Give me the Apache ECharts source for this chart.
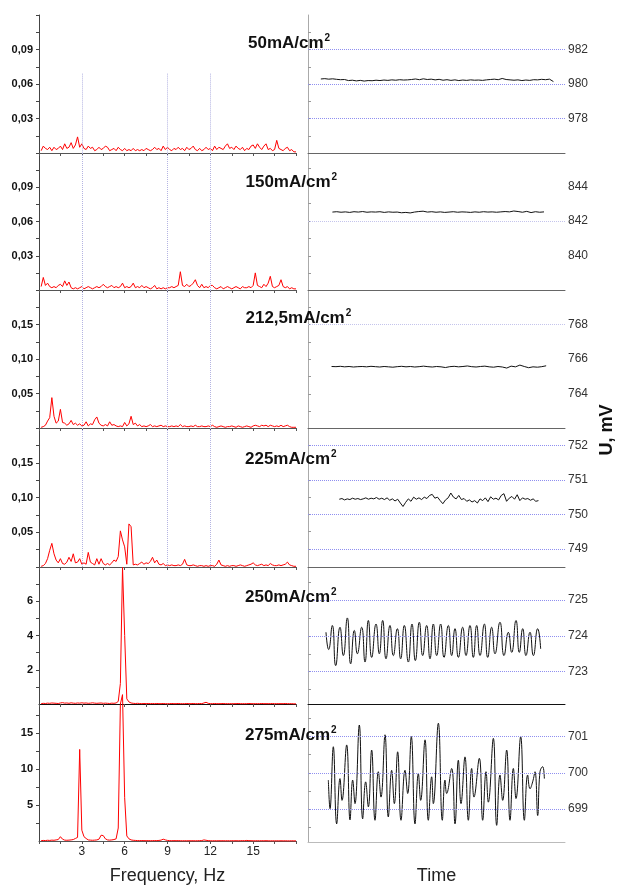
<!DOCTYPE html>
<html>
<head>
<meta charset="utf-8">
<script src="https://cdn.jsdelivr.net/npm/echarts@6/dist/echarts.min.js"></script>
<style>
  html, body { margin: 0; padding: 0; background: #fff; }
  #chart { width: 617px; height: 886px; }
</style>
</head>
<body>
<div id="chart"></div>
<script>
// Current density of each row (mA/cm2)
const densities = ['50', '150', '212,5', '225', '250', '275'];

// Amplitude spectra, sampled every 0.15 Hz starting at 0.15 Hz
const freqStep = 0.15;
const spec50 = [
  0.002,0.006,0.004,0.003,0.005,0.002,0.005,0.003,0.004,0.006,
  0.003,0.008,0.004,0.005,0.009,0.004,0.007,0.014,0.005,0.008,
  0.004,0.003,0.006,0.004,0.005,0.002,0.003,0.005,0.003,0.004,
  0.006,0.005,0.002,0.003,0.004,0.002,0.005,0.003,0.002,0.004,
  0.002,0.003,0.002,0.004,0.002,0.003,0.002,0.003,0.002,0.004,
  0.003,0.002,0.003,0.005,0.003,0.004,0.002,0.006,0.003,0.005,
  0.003,0.002,0.004,0.003,0.005,0.003,0.004,0.002,0.005,0.003,
  0.004,0.006,0.003,0.002,0.004,0.002,0.003,0.005,0.003,0.004,
  0.002,0.006,0.003,0.005,0.004,0.003,0.006,0.008,0.004,0.005,
  0.003,0.006,0.004,0.003,0.005,0.002,0.004,0.003,0.006,0.007,
  0.004,0.008,0.005,0.003,0.006,0.008,0.003,0.004,0.002,0.003,
  0.011,0.004,0.003,0.002,0.004,0.005,0.002,0.003,0.001,0.001
];
const spec150 = [
  0.003,0.011,0.004,0.006,0.003,0.002,0.003,0.002,0.004,0.005,
  0.003,0.008,0.004,0.007,0.002,0.001,0.002,0.001,0.002,0.003,
  0.001,0.002,0.003,0.002,0.001,0.002,0.003,0.002,0.003,0.005,
  0.003,0.002,0.003,0.004,0.002,0.003,0.002,0.003,0.006,0.002,
  0.003,0.002,0.003,0.006,0.002,0.003,0.002,0.004,0.002,0.003,
  0.002,0.001,0.002,0.004,0.001,0.002,0.001,0.002,0.001,0.002,
  0.002,0.003,0.002,0.003,0.004,0.016,0.004,0.003,0.005,0.003,
  0.004,0.006,0.009,0.004,0.002,0.005,0.002,0.003,0.002,0.004,
  0.004,0.002,0.001,0.002,0.003,0.001,0.002,0.003,0.002,0.001,
  0.002,0.003,0.002,0.001,0.003,0.002,0.002,0.003,0.002,0.004,
  0.015,0.004,0.003,0.002,0.005,0.003,0.006,0.012,0.003,0.002,
  0.003,0.004,0.009,0.003,0.002,0.003,0.001,0.002,0.001,0.001
];
const spec212 = [
  0.001,0.002,0.004,0.010,0.015,0.044,0.017,0.007,0.010,0.027,
  0.008,0.007,0.004,0.006,0.011,0.005,0.007,0.004,0.006,0.003,
  0.004,0.009,0.003,0.006,0.005,0.012,0.016,0.007,0.004,0.003,
  0.005,0.003,0.009,0.004,0.005,0.003,0.002,0.003,0.002,0.008,
  0.003,0.006,0.017,0.005,0.007,0.003,0.005,0.002,0.003,0.002,
  0.003,0.005,0.002,0.003,0.002,0.003,0.004,0.002,0.003,0.002,
  0.002,0.003,0.002,0.003,0.002,0.005,0.002,0.003,0.002,0.002,
  0.003,0.002,0.004,0.002,0.002,0.003,0.002,0.002,0.003,0.002,
  0.004,0.002,0.001,0.002,0.003,0.002,0.001,0.002,0.002,0.003,
  0.002,0.001,0.003,0.002,0.001,0.002,0.003,0.002,0.001,0.003,
  0.004,0.003,0.002,0.004,0.003,0.004,0.002,0.004,0.003,0.002,
  0.003,0.002,0.004,0.002,0.003,0.004,0.002,0.001,0.001,0.001
];
const spec225 = [
  0.001,0.002,0.005,0.012,0.024,0.034,0.019,0.010,0.006,0.012,
  0.005,0.004,0.007,0.014,0.008,0.019,0.006,0.007,0.012,0.004,
  0.006,0.004,0.021,0.007,0.005,0.003,0.012,0.004,0.012,0.005,
  0.003,0.005,0.003,0.006,0.010,0.008,0.015,0.052,0.039,0.029,
  0.004,0.062,0.058,0.003,0.004,0.003,0.005,0.007,0.004,0.006,
  0.005,0.008,0.014,0.006,0.010,0.004,0.003,0.005,0.002,0.003,
  0.002,0.003,0.002,0.002,0.003,0.002,0.004,0.011,0.003,0.002,
  0.002,0.003,0.002,0.001,0.002,0.002,0.001,0.002,0.001,0.002,
  0.002,0.001,0.004,0.010,0.003,0.002,0.001,0.002,0.001,0.002,
  0.002,0.001,0.002,0.003,0.002,0.001,0.002,0.003,0.004,0.006,
  0.003,0.002,0.003,0.004,0.002,0.003,0.002,0.005,0.003,0.002,
  0.002,0.003,0.002,0.003,0.004,0.007,0.003,0.002,0.001,0.001
];
const spec250 = [
  0.02,0.04,0.03,0.05,0.04,0.06,0.05,0.04,0.03,0.06,
  0.08,0.05,0.06,0.04,0.07,0.05,0.04,0.06,0.05,0.07,
  0.05,0.06,0.04,0.05,0.07,0.05,0.04,0.05,0.06,0.04,
  0.05,0.04,0.03,0.05,0.04,0.06,0.15,1.20,7.98,4.00,
  0.30,0.12,0.06,0.04,0.03,0.04,0.03,0.02,0.03,0.02,
  0.03,0.02,0.03,0.02,0.03,0.02,0.02,0.03,0.02,0.02,
  0.02,0.03,0.02,0.02,0.03,0.02,0.02,0.02,0.03,0.02,
  0.02,0.03,0.02,0.02,0.03,0.02,0.06,0.10,0.04,0.02,
  0.02,0.03,0.02,0.02,0.02,0.03,0.02,0.02,0.02,0.02,
  0.02,0.02,0.03,0.02,0.02,0.02,0.02,0.03,0.02,0.02,
  0.02,0.02,0.02,0.03,0.02,0.02,0.02,0.02,0.03,0.02,
  0.02,0.02,0.02,0.02,0.03,0.02,0.02,0.02,0.01,0.01
];
const spec275 = [
  0.05,0.08,0.06,0.10,0.08,0.12,0.10,0.15,0.20,0.60,
  0.25,0.12,0.10,0.12,0.15,0.20,0.35,0.50,12.70,1.50,
  0.60,0.35,0.15,0.12,0.10,0.12,0.15,0.25,0.80,0.75,
  0.30,0.15,0.12,0.15,0.20,0.30,1.80,19.00,20.30,6.00,
  0.70,0.30,0.15,0.10,0.08,0.06,0.05,0.06,0.05,0.04,
  0.05,0.04,0.05,0.06,0.05,0.08,0.12,0.25,0.15,0.08,
  0.05,0.04,0.05,0.04,0.05,0.04,0.03,0.04,0.03,0.04,
  0.03,0.04,0.03,0.04,0.05,0.06,0.15,0.10,0.05,0.04,
  0.03,0.04,0.03,0.04,0.03,0.04,0.03,0.04,0.03,0.04,
  0.03,0.04,0.03,0.04,0.05,0.04,0.08,0.05,0.04,0.03,
  0.03,0.04,0.03,0.04,0.03,0.04,0.03,0.02,0.03,0.02,
  0.03,0.02,0.03,0.02,0.03,0.02,0.02,0.03,0.02,0.02
];

// Potential traces U (mV); evenly sampled ones carry their [first, last] time (s)
const u50 = [
  980.29,980.31,980.28,980.30,980.27,980.25,980.26,980.20,980.22,980.18,
  980.21,980.17,980.20,980.19,980.22,980.20,980.23,980.21,980.24,980.22,
  980.25,980.23,980.24,980.26,980.29,980.25,980.30,980.26,980.28,980.24,
  980.27,980.22,980.25,980.21,980.24,980.20,980.23,980.21,980.24,980.22,
  980.23,980.21,980.24,980.26,980.28,980.25,980.32,980.26,980.24,980.22,
  980.24,980.20,980.23,980.21,980.25,980.24,980.27,980.25,980.28,980.14
];
const u50Span = [0.30, 5.73];
const u150 = [
  842.52,842.54,842.51,842.53,842.50,842.54,842.52,842.55,842.51,842.53,
  842.52,842.54,842.50,842.53,842.51,842.52,842.48,842.50,842.47,842.52,
  842.55,842.57,842.52,842.54,842.51,842.53,842.50,842.52,842.54,842.51,
  842.53,842.52,842.50,842.53,842.51,842.54,842.52,842.53,842.51,842.53,
  842.55,842.53,842.58,842.55,842.51,842.56,842.49,842.54,842.51,842.53
];
const u150Span = [0.57, 5.51];
const u212 = [
  765.58,765.57,765.59,765.56,765.58,765.55,765.57,765.58,765.56,765.59,
  765.57,765.55,765.58,765.56,765.54,765.57,765.59,765.56,765.58,765.55,
  765.57,765.60,765.57,765.55,765.58,765.56,765.52,765.57,765.59,765.56,
  765.58,765.61,765.57,765.55,765.58,765.60,765.56,765.54,765.58,765.55,
  765.49,765.60,765.56,765.66,765.58,765.51,765.56,765.54,765.57,765.62
];
const u212Span = [0.55, 5.56];
const u225 = [
  750.44,750.46,750.42,750.45,750.43,750.47,750.44,750.46,750.43,750.45,
  750.48,750.44,750.47,750.45,750.49,750.44,750.47,750.43,750.48,750.41,
  750.45,750.39,750.44,750.33,750.23,750.35,750.45,750.38,750.50,750.44,
  750.48,750.43,750.50,750.46,750.55,750.58,750.47,750.50,750.40,750.31,
  750.42,750.48,750.62,750.50,750.45,750.55,750.43,750.46,750.38,750.42,
  750.36,750.40,750.33,750.45,750.40,750.48,750.37,750.51,750.44,750.47,
  750.42,750.55,750.60,750.38,750.47,750.52,750.44,750.57,750.40,750.48,
  750.44,750.46,750.41,750.45,750.38,750.40
];
const u225Span = [0.73, 5.38];
const t250 = [
  0.420,0.482,0.568,0.646,0.747,0.825,0.918,0.996,1.082,1.152,1.253,
  1.331,1.409,1.486,1.588,1.665,1.743,1.821,1.914,1.992,2.086,
  2.163,2.249,2.342,2.428,2.506,2.599,2.677,2.770,2.848,2.926,
  3.004,3.097,3.175,3.276,3.354,3.432,3.510,3.611,3.689,3.782,
  3.860,3.938,4.016,4.117,4.195,4.288,4.366,4.482,4.576,4.677,
  4.755,4.856,4.934,5.012,5.089,5.183,5.261,5.362,5.432
];
const u250 = [
  724.10,723.62,724.29,723.17,724.24,723.45,724.50,723.22,724.15,723.50,724.24,
  723.27,724.43,723.40,724.33,723.50,724.43,723.36,724.29,723.45,724.20,
  723.36,724.29,723.27,724.33,723.31,724.38,723.45,724.29,723.36,724.33,
  723.45,724.33,723.40,724.29,723.45,724.20,723.40,724.24,723.45,724.29,
  723.40,724.29,723.45,724.33,723.40,724.24,723.50,724.38,723.45,724.10,
  723.54,724.43,723.54,724.20,723.45,724.10,723.45,724.20,723.64
];
const t275 = [
  0.475,0.514,0.591,0.669,0.747,0.794,0.903,0.981,1.043,1.097,
  1.198,1.276,1.346,1.409,1.486,1.564,1.642,1.704,1.798,1.875,
  1.953,2.016,2.093,2.171,2.265,2.327,2.412,2.498,2.576,2.630,
  2.732,2.809,2.887,2.926,3.043,3.136,3.198,3.237,3.354,3.432,
  3.510,3.572,3.665,3.743,3.821,3.875,4.000,4.078,4.156,4.210,
  4.327,4.405,4.482,4.545,4.638,4.716,4.794,4.856,4.965,5.051,
  5.128,5.183,5.245,5.300,5.362,5.416,5.479,5.518
];
const u275 = [
  699.80,699.01,700.72,698.59,699.84,699.24,700.77,698.70,699.80,699.15,
  701.32,698.73,699.75,699.06,700.63,698.69,700.03,699.33,701.05,698.78,
  700.07,699.15,700.58,698.69,700.07,699.43,701.00,698.59,699.98,699.24,
  700.91,698.69,699.89,699.15,701.37,698.69,699.80,699.43,700.12,698.59,
  700.35,699.15,700.44,698.69,700.12,699.33,700.40,698.69,700.03,699.19,
  700.95,698.55,699.94,699.24,700.63,698.69,700.12,699.29,701.00,698.69,
  699.94,699.56,699.75,700.03,698.82,700.03,700.17,699.84
];

// Frequency axis
const freqRange = [0, 18];
const freqLabels = [3, 6, 9, 12, 15];
const freqTicks = [0, 1.5, 3, 4.5, 6, 7.5, 9, 10.5, 12, 13.5, 15, 16.5, 18];
const freqGrid = [3, 9, 12];
const freqGridTop = [0.069, 0.12, 0.2, 0.2];

// Spectrum amplitude axes
const specMax = [0.12, 0.12, 0.2, 0.2, 8, 19];
const specLabels = [
  [0.03, 0.06, 0.09], [0.03, 0.06, 0.09],
  [0.05, 0.10, 0.15], [0.05, 0.10, 0.15],
  [2, 4, 6], [5, 10, 15]
];
const specTicks = [
  [0.015, 0.03, 0.045, 0.06, 0.075, 0.09, 0.105, 0.12],
  [0.015, 0.03, 0.045, 0.06, 0.075, 0.09, 0.105, 0.12],
  [0.025, 0.05, 0.075, 0.1, 0.125, 0.15, 0.175, 0.2],
  [0.025, 0.05, 0.075, 0.1, 0.125, 0.15, 0.175, 0.2],
  [1, 2, 3, 4, 5, 6, 7, 8],
  [2.5, 5, 7.5, 10, 12.5, 15, 17.5]
];

// Potential axes
const timeRange = [0, 6];
const uRange = [[976, 984], [838.06, 845.9], [762.05, 769.97], [748.48, 752.5], [722.1, 725.92], [698.09, 701.9]];
const uLabels = [
  [978, 980, 982], [840, 842, 844], [764, 766, 768],
  [749, 750, 751, 752], [723, 724, 725], [699, 700, 701]
];
const uTicks = [
  [977, 978, 979, 980, 981, 982, 983],
  [839, 840, 841, 842, 843, 844, 845],
  [763, 764, 765, 766, 767, 768, 769],
  [749, 749.5, 750, 750.5, 751, 751.5, 752],
  [722.5, 723, 723.5, 724, 724.5, 725, 725.5],
  [698.5, 699, 699.5, 700, 700.5, 701, 701.5]
];
const uGrid = [[978, 980, 982], [842], [768], [749, 750, 751, 752], [723, 724, 725], [699, 700, 701]];

// ---- layout ----
const rowTop = [15, 153, 290, 428, 567, 704];
const rowBottom = [153, 290, 428, 567, 704, 842];
const leftX = 39, rightX = 308, plotW = 257;
const FONT = '"Liberation Sans", Arial, Helvetica, sans-serif';
const titleX = [248, 245.5, 245.5, 245, 245, 245];
const titleY = [43, 182, 318, 459, 597, 735];
const traceSmooth = [false, false, false, false, 0.55, 0.45];

const spectra = [spec50, spec150, spec212, spec225, spec250, spec275];
const evenTraces = [[u50, u50Span], [u150, u150Span], [u212, u212Span], [u225, u225Span]];

function evenPairs(values, span) {
  const n = values.length;
  return values.map((v, k) => [span[0] + (span[1] - span[0]) * k / (n - 1), v]);
}
const traces = evenTraces.map(([v, s]) => evenPairs(v, s));
traces.push(t250.map((t, k) => [t, u250[k]]));
traces.push(t275.map((t, k) => [t, u275[k]]));

const grid = [], xAxis = [], yAxis = [], series = [];

for (let i = 0; i < 6; i++) {
  const h = rowBottom[i] - rowTop[i];
  const last = i === 5;
  // spectrum panel
  grid.push({ left: leftX, top: rowTop[i], width: plotW, height: h, containLabel: false });
  // time panel
  grid.push({ left: rightX, top: rowTop[i], width: plotW, height: h, containLabel: false });

  xAxis.push({
    type: 'value', gridIndex: 2 * i, min: freqRange[0], max: freqRange[1],
    axisLine: { show: true, onZero: false, lineStyle: { color: i === 4 ? '#111' : '#555', width: 1 } },
    axisTick: { show: true, customValues: freqTicks, length: 3, lineStyle: { color: '#555' } },
    axisLabel: { show: last, customValues: freqLabels, margin: 5, fontSize: 12, color: '#222', fontFamily: FONT },
    splitLine: { show: false },
    name: last ? 'Frequency, Hz' : '', nameLocation: 'middle', nameGap: 26,
    nameTextStyle: { fontSize: 18, color: '#222', fontFamily: FONT }
  });
  xAxis.push({
    type: 'value', gridIndex: 2 * i + 1, min: timeRange[0], max: timeRange[1],
    axisLine: { show: true, onZero: false, lineStyle: { color: i === 4 ? '#111' : (last ? '#bbb' : '#666'), width: 1 } },
    axisTick: { show: false }, axisLabel: { show: false }, splitLine: { show: false },
    name: last ? 'Time' : '', nameLocation: 'middle', nameGap: 25,
    nameTextStyle: { fontSize: 18, color: '#222', fontFamily: FONT }
  });

  yAxis.push({
    type: 'value', gridIndex: 2 * i, min: 0, max: specMax[i],
    axisLine: { show: true, lineStyle: { color: '#444' } },
    axisTick: { show: true, customValues: specTicks[i], length: 3, lineStyle: { color: '#444' } },
    axisLabel: {
      customValues: specLabels[i], margin: 6, fontSize: 11, fontWeight: 'bold', color: '#111', fontFamily: FONT,
      formatter: i < 4 ? (v => v.toFixed(2).replace('.', ',')) : (v => String(v))
    },
    splitLine: { show: false }
  });
  yAxis.push({
    type: 'value', gridIndex: 2 * i + 1, position: 'right', min: uRange[i][0], max: uRange[i][1],
    axisLine: { show: true, lineStyle: { color: '#aaa' } },
    axisTick: { show: true, customValues: uTicks[i], length: 3, lineStyle: { color: '#999' } },
    axisLabel: { customValues: uLabels[i], margin: 3, fontSize: 12, color: '#333', fontFamily: FONT },
    splitLine: { show: false }
  });

  const spec = spectra[i];
  const specSeries = {
    type: 'line', xAxisIndex: 2 * i, yAxisIndex: 2 * i,
    data: spec.map((v, k) => [freqStep * (k + 1), v]),
    showSymbol: false, clip: false, animation: false, silent: true,
    lineStyle: { color: '#ff0000', width: 1 }, z: 3
  };
  if (i < 4) {
    specSeries.markLine = {
      silent: true, animation: false, symbol: ['none', 'none'], label: { show: false },
      lineStyle: { type: 'dotted', color: '#b4b4e2', width: 1 },
      data: freqGrid.map(f => [{ coord: [f, freqGridTop[i]] }, { coord: [f, 0] }])
    };
  }
  series.push(specSeries);

  series.push({
    type: 'line', xAxisIndex: 2 * i + 1, yAxisIndex: 2 * i + 1,
    data: traces[i], showSymbol: false, clip: false, animation: false, silent: true,
    smooth: traceSmooth[i],
    lineStyle: { color: '#111', width: 1 }, z: 3,
    markLine: {
      silent: true, animation: false, symbol: ['none', 'none'], label: { show: false },
      lineStyle: { type: 'dotted', color: (i === 1 || i === 2) ? '#c4c4ec' : '#8f8ff0', width: 1 },
      data: uGrid[i].map(v => ({ yAxis: v }))
    }
  });
}

const graphic = densities.map((d, i) => ({
  type: 'text', x: titleX[i], y: titleY[i], z: 10,
  style: {
    text: '{m|' + d + 'mA/cm}{s|2}',
    verticalAlign: 'middle', align: 'left',
    rich: {
      m: { fontSize: 17, fontWeight: 'bold', fontFamily: FONT, fill: '#111', lineHeight: 20 },
      s: { fontSize: 10, fontWeight: 'bold', fontFamily: FONT, fill: '#111', verticalAlign: 'top', lineHeight: 20, padding: [0, 0, 6, 1] }
    }
  }
}));
graphic.push({
  type: 'text', x: 607, y: 430, rotation: Math.PI / 2, z: 10,
  style: { text: 'U, mV', fontSize: 18, fontWeight: 'bold', fontFamily: FONT, fill: '#111', align: 'center', verticalAlign: 'middle' }
});

const chart = echarts.init(document.getElementById('chart'), null, { renderer: 'canvas' });
chart.setOption({
  backgroundColor: '#ffffff',
  animation: false,
  grid, xAxis, yAxis, series, graphic
});
</script>
</body>
</html>
